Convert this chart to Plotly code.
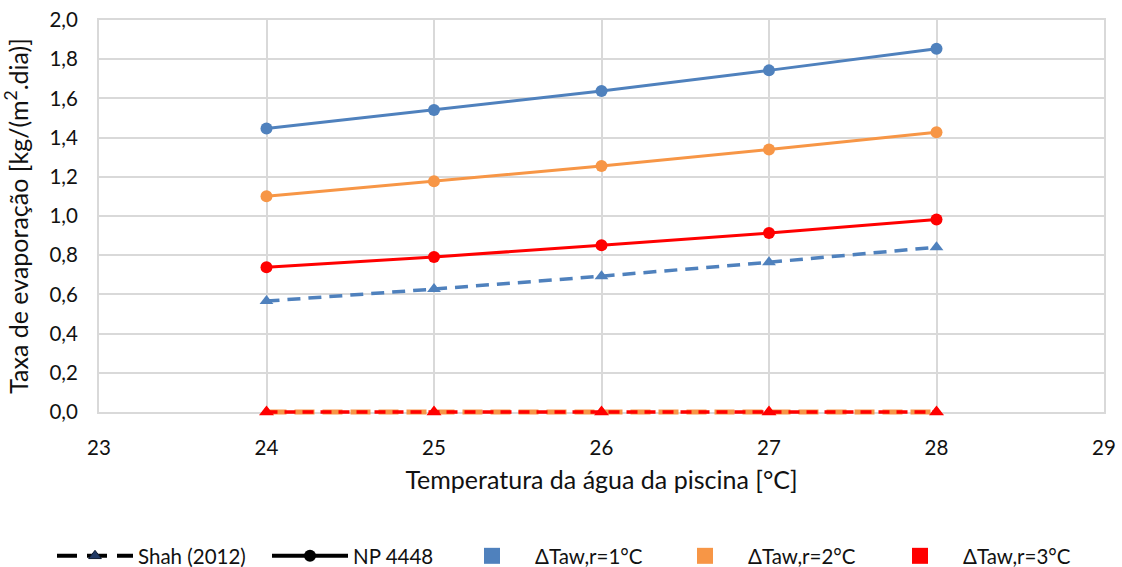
import plotly.graph_objects as go

# Water temperature of the pool [°C]
temperatura = [24, 25, 26, 27, 28]

# NP 4448 evaporation rate [kg/(m².dia)] for each ΔTaw,r
np4448_dt1 = [1.447, 1.541, 1.638, 1.743, 1.853]
np4448_dt2 = [1.101, 1.177, 1.255, 1.339, 1.427]
np4448_dt3 = [0.738, 0.791, 0.851, 0.913, 0.982]

# Shah (2012) evaporation rate [kg/(m².dia)] for each ΔTaw,r
shah_dt1 = [0.566, 0.627, 0.693, 0.764, 0.841]
shah_dt2 = [0.0, 0.0, 0.0, 0.0, 0.0]
shah_dt3 = [0.0, 0.0, 0.0, 0.0, 0.0]

legend_names = ["Shah (2012)", "NP 4448", "ΔTaw,r=1°C", "ΔTaw,r=2°C", "ΔTaw,r=3°C"]

AZUL = "#4F81BD"
LARANJA = "#F79646"
VERMELHO = "#FF0000"
FONT = "Lato"
FS = 20.5

W, H = 1122, 567
M_L, M_R, M_T, M_B = 99, 18, 20, 145
PAD = 10                        # extra room under the main axis for the zero-valued series
plot_h = H - M_T - M_B
dom0 = PAD / plot_h             # main y-domain starts here
Y_MAX = 2.0
y2_min = -Y_MAX * dom0 / (1 - dom0)   # keeps y=0 on the same pixel row in both subplots

fig = go.Figure()

# Shah (2012), ΔTaw,r = 2 and 3 °C: lie on y=0, drawn in an unclipped overlay subplot
fig.add_trace(go.Scatter(x=temperatura, y=shah_dt2, mode="lines+markers",
                         xaxis="x2", yaxis="y2",
                         line=dict(color=LARANJA, width=5, dash="20px,8px"),
                         marker=dict(symbol="triangle-up", size=12, color=LARANJA),
                         showlegend=False, hoverinfo="skip"))
fig.add_trace(go.Scatter(x=temperatura, y=shah_dt3, mode="lines+markers",
                         xaxis="x2", yaxis="y2",
                         line=dict(color=VERMELHO, width=3.5, dash="11px,7px"),
                         marker=dict(symbol="triangle-up", size=13, color=VERMELHO),
                         showlegend=False, hoverinfo="skip"))

# Shah (2012), ΔTaw,r = 1 °C
fig.add_trace(go.Scatter(x=temperatura, y=shah_dt1, mode="lines+markers",
                         line=dict(color=AZUL, width=3.5, dash="13px,8px"),
                         marker=dict(symbol="triangle-up", size=12, color=AZUL),
                         showlegend=False, hoverinfo="skip"))

# NP 4448 solid series with circle markers
for serie, cor in [(np4448_dt3, VERMELHO), (np4448_dt2, LARANJA), (np4448_dt1, AZUL)]:
    fig.add_trace(go.Scatter(x=temperatura, y=serie, mode="lines+markers",
                             line=dict(color=cor, width=3),
                             marker=dict(symbol="circle", size=12, color=cor),
                             showlegend=False, hoverinfo="skip"))

# Legend entries: method styles in black, ΔTaw,r colours as squares
fig.add_trace(go.Scatter(x=[None], y=[None], mode="lines+markers", name=legend_names[0],
                         legendwidth=124,
                         line=dict(color="black", width=4, dash="20px,10px"),
                         marker=dict(symbol="triangle-up", size=11, color="#1F3864",
                                     line=dict(color="#0d1b33", width=1))))
fig.add_trace(go.Scatter(x=[None], y=[None], mode="lines+markers", name=legend_names[1],
                         legendwidth=91,
                         line=dict(color="black", width=4),
                         marker=dict(symbol="circle", size=12, color="black")))
for nome, cor, w in zip(legend_names[2:], [AZUL, LARANJA, VERMELHO], [122, 124, 110]):
    fig.add_trace(go.Scatter(x=[None], y=[None], mode="markers", name=nome,
                             legendwidth=w,
                             marker=dict(symbol="square", size=17, color=cor)))

fig.update_layout(
    width=W, height=H,
    margin=dict(l=M_L, r=M_R, t=M_T, b=M_B, autoexpand=False),
    paper_bgcolor="white", plot_bgcolor="rgba(0,0,0,0)",
    separators=", ",
    font=dict(family=FONT, size=FS, color="#111111"),
    legend=dict(orientation="h", x=(52 - M_L) / (W - M_L - M_R), xanchor="left",
                y=(H - M_B - 556) / plot_h, yanchor="middle",
                itemwidth=76, font=dict(size=FS), traceorder="normal"),
    xaxis=dict(range=[23, 29], dtick=1, tick0=23, showgrid=True, gridcolor="#D9D9D9",
               gridwidth=2, showline=True, linecolor="#D9D9D9", linewidth=2, mirror=True,
               zeroline=False, ticks="", ticklabelstandoff=16, automargin=False,
               layer="below traces", anchor="y",
               title=dict(text="Temperatura da água da piscina [°C]", standoff=14)),
    yaxis=dict(range=[0, Y_MAX], domain=[dom0, 1], dtick=0.2, tickformat=".1f",
               showgrid=True, gridcolor="#D9D9D9",
               gridwidth=2, showline=True, linecolor="#D9D9D9", linewidth=2, mirror=True,
               zeroline=False, ticks="", ticklabelstandoff=15, automargin=False,
               layer="below traces", anchor="x",
               title=dict(text="Taxa de evaporação [kg/(m<sup>2</sup>.dia)]", standoff=17)),
    xaxis2=dict(range=[23, 29], anchor="y2", visible=False, showgrid=False, zeroline=False),
    yaxis2=dict(range=[y2_min, Y_MAX], domain=[0, 1], anchor="x2", visible=False,
                showgrid=False, zeroline=False),
)

fig.write_html("out.html")
